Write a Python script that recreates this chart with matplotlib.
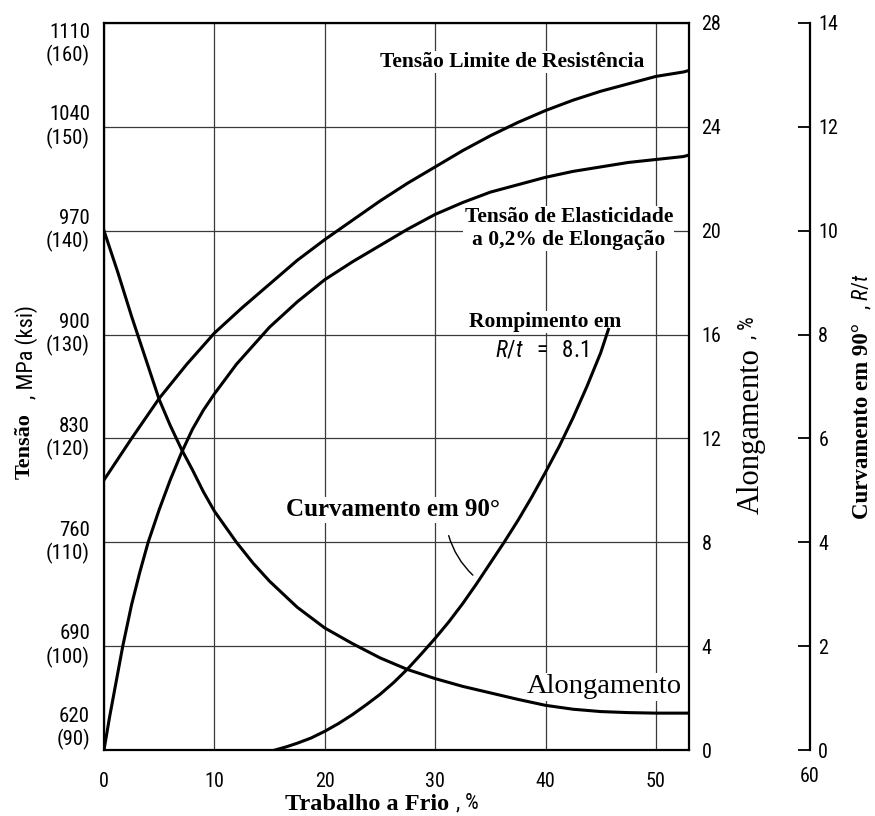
"""
    Cold work curves: tensile strength, yield strength, elongation and 90 degree bend
"""
import matplotlib
matplotlib.use("Agg")
import matplotlib.pyplot as plt
from matplotlib import font_manager

# values
trabalho_limite = [0, 2.5, 5, 7.5, 10, 12.5, 15, 17.5, 20, 22.5, 25, 27.5, 30, 32.5,
                   35, 37.5, 40, 42.5, 45, 47.5, 50, 52.5, 53]
tensao_limite = [802, 830, 857, 880, 901, 918, 934, 950, 964, 977, 990, 1002, 1013, 1024,
                 1034, 1043, 1051, 1058, 1064, 1069, 1074, 1077, 1078]

trabalho_elast = [0, 0.5, 1, 1.7, 2.5, 3.25, 4, 5, 6, 7, 8, 9, 10, 12, 15, 17.5, 20,
                  22.5, 25, 27.5, 30, 32.5, 35, 37.5, 40, 42.5, 45, 47.5, 50, 52.5, 53]
tensao_elast = [620, 642, 662, 690, 718, 740, 760, 782, 802, 820, 836, 849, 860, 880, 905,
                922, 937, 949, 960, 971, 981, 989, 996, 1001, 1006, 1010, 1013, 1016,
                1018, 1020, 1021]

trabalho_along = [0, 1.25, 2.5, 3.75, 5, 6, 7, 8, 9, 10, 11, 12, 13.5, 15, 17.5, 20,
                  22.5, 25, 27.5, 30, 32.5, 35, 37.5, 40, 42.5, 45, 47.5, 50, 53]
alongamento = [20, 18.4, 16.7, 15.1, 13.5, 12.5, 11.6, 10.8, 9.95, 9.2, 8.6, 8.0, 7.2,
               6.5, 5.5, 4.7, 4.1, 3.55, 3.1, 2.75, 2.45, 2.2, 1.95, 1.72, 1.57, 1.48,
               1.44, 1.42, 1.42]

trabalho_curv = [15.5, 16.5, 17.5, 18.75, 20, 21.25, 22.5, 23.75, 25, 26.25, 27.5, 28.75,
                 30, 31.25, 32.5, 33.75, 35, 36.25, 37.5, 38.75, 40, 41.25, 42.5, 43.75,
                 45, 45.7]
curvamento = [0, 0.06, 0.13, 0.23, 0.36, 0.51, 0.68, 0.87, 1.07, 1.3, 1.56, 1.85, 2.15,
              2.47, 2.82, 3.2, 3.6, 4.0, 4.42, 4.87, 5.35, 5.85, 6.4, 7.0, 7.65, 8.1]

x_ticks = [0, 10, 20, 30, 40, 50]
mpa_ticks = [620, 690, 760, 830, 900, 970, 1040, 1110]
ksi_ticks = [90, 100, 110, 120, 130, 140, 150, 160]
along_ticks = [0, 4, 8, 12, 16, 20, 24, 28]
rt_ticks = [0, 2, 4, 6, 8, 10, 12, 14]

names = {f.name for f in font_manager.fontManager.ttflist}
SANS = "Liberation Sans"
for cand in ["Liberation Sans Narrow", "Roboto Condensed", "Open Sans Condensed"]:
    if cand in names:
        SANS = cand
        break
SERIF = "Liberation Serif"
plt.rcParams["font.family"] = [SANS, "DejaVu Sans"]
plt.rcParams["mathtext.fontset"] = "custom"
plt.rcParams["mathtext.rm"] = SANS
plt.rcParams["mathtext.it"] = SANS + ":italic"

W, H = 875, 816
fig = plt.figure(figsize=(W / 100, H / 100), dpi=100)
ax = fig.add_axes([104 / W, 1 - 750 / H, 585 / W, 727 / H])


def fx(px):
    return px / W


def fy(py):
    return 1 - py / H


# stress curves (left axis)
ax.plot(trabalho_limite, tensao_limite, color="black", lw=2.2)
ax.plot(trabalho_elast, tensao_elast, color="black", lw=2.2)
ax.set_xlim(0, 53)
ax.set_ylim(620, 1110)
ax.set_xticks(x_ticks)
ax.set_xticklabels([str(v) for v in x_ticks], fontsize=14.5)
ax.set_yticks(mpa_ticks)
ylabels = ax.set_yticklabels(["{}\n({})".format(m, k) for m, k in zip(mpa_ticks, ksi_ticks)],
                             fontsize=15, va="center")
ylabels[0].set_va("bottom")
ylabels[-1].set_va("top")
ax.tick_params(axis="both", length=0)
ax.tick_params(axis="x", pad=16)
ax.tick_params(axis="y", pad=10)
ax.grid(True, color="#3a3a3a", lw=0.9)
for s in ax.spines.values():
    s.set_linewidth(1.6)

# elongation (right axis)
ax2 = ax.twinx()
ax2.plot(trabalho_along, alongamento, color="black", lw=2.2)
ax2.set_ylim(0, 28)
ax2.set_yticks(along_ticks)
ax2.set_yticklabels([str(v) for v in along_ticks], fontsize=14.5)
ax2.tick_params(axis="y", length=0, pad=9)
for s in ax2.spines.values():
    s.set_visible(False)

# bend R/t (outer axis)
ax3 = ax.twinx()
ax3.spines["right"].set_position(("axes", (810 - 104) / 585))
ax3.spines["right"].set_linewidth(1.6)
for k in ["top", "left", "bottom"]:
    ax3.spines[k].set_visible(False)
ax3.plot(trabalho_curv, curvamento, color="black", lw=2.2)
ax3.set_ylim(0, 14)
ax3.set_yticks(rt_ticks)
ax3.set_yticklabels([str(v) for v in rt_ticks], fontsize=14.5)
ax3.tick_params(axis="y", direction="in", length=8.5, width=1.3, pad=6)

# curve labels
box = dict(facecolor="white", edgecolor="none", pad=1)
ax.text(36.96, 1083.7, "Tensão Limite de Resistência", family=SERIF, weight="bold",
        fontsize=15.5, ha="center", va="center", bbox=box)
ax.text(42.1, 971.5, "Tensão de Elasticidade\na 0,2% de Elongação", family=SERIF,
        weight="bold", fontsize=15.5, ha="center", va="center", linespacing=1.15, bbox=box)
ax.text(39.95, 908.5, "Rompimento em", family=SERIF, weight="bold",
        fontsize=15.5, ha="center", va="center", bbox=box)
ax.text(39.67, 889.6, r"$R/t\ \ =\ \ 8.1$", fontsize=16.5, ha="center", va="center")
ax.text(26.18, 781.8, "Curvamento em 90°", family=SERIF, weight="bold",
        fontsize=18, ha="center", va="center", bbox=box)
ax.text(45.29, 662.5, "Alongamento", family=SERIF, fontsize=20.5,
        ha="center", va="center", bbox=box)
ax.annotate("", xy=(33.6, 736.6), xytext=(31.16, 766.3),
            arrowprops=dict(arrowstyle="-", lw=1.0, color="black",
                            connectionstyle="arc3,rad=0.15"))

# axis titles
fig.text(fx(449), fy(805), "Trabalho a Frio", family=SERIF, weight="bold",
         fontsize=17.5, ha="right", va="center")
fig.text(fx(456), fy(803), ", %", fontsize=15.5, ha="left", va="center")
fig.text(fx(25), fy(446), "Tensão", family=SERIF, weight="bold", fontsize=16,
         rotation=90, ha="center", va="center")
fig.text(fx(27), fy(352), ", MPa (ksi)", fontsize=16, rotation=90,
         ha="center", va="center")
fig.text(fx(751), fy(431), "Alongamento", family=SERIF, fontsize=22,
         rotation=90, ha="center", va="center")
fig.text(fx(748), fy(328), ", %", fontsize=15.5, rotation=90, ha="center", va="center")
fig.text(fx(863), fy(421), "Curvamento em 90°", family=SERIF, weight="bold",
         fontsize=16.5, rotation=90, ha="center", va="center")
fig.text(fx(862), fy(292), r", $R/t$", fontsize=15.5, rotation=90, ha="center", va="center")
fig.text(fx(810), fy(777), "60", fontsize=14.5, ha="center", va="center")

plt.savefig("out.png", dpi=100)
